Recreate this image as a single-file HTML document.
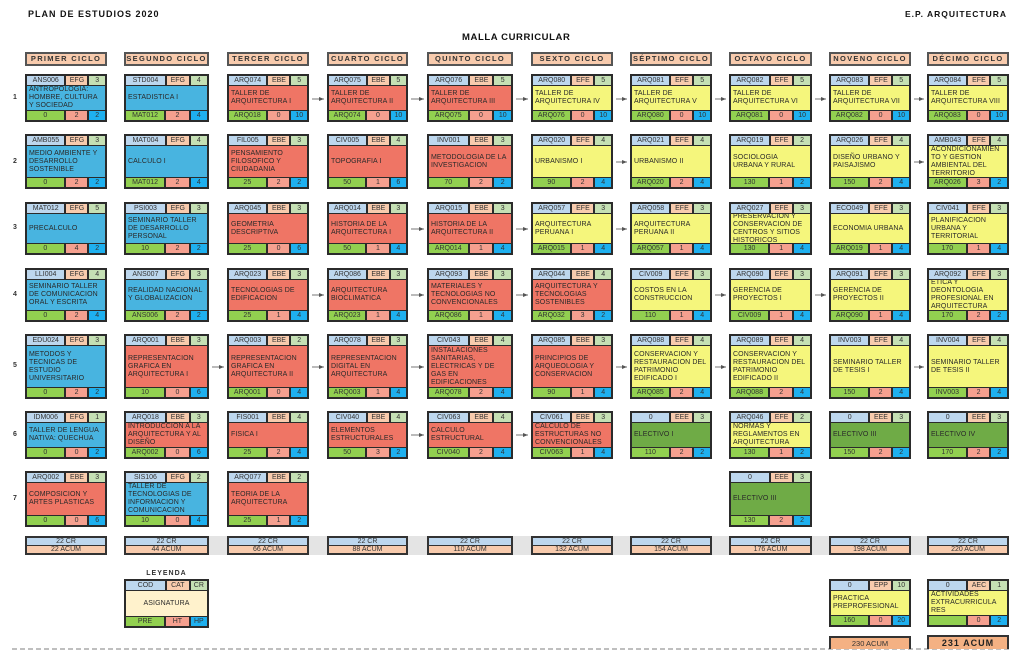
<!DOCTYPE html>
<html><head><meta charset="utf-8"><style>
*{margin:0;padding:0;box-sizing:border-box}
body{width:1024px;height:666px;background:#fff;position:relative;overflow:hidden;font-family:"Liberation Sans",Arial,sans-serif;color:#222}
.tt{position:absolute;font-weight:bold;font-size:9px;letter-spacing:1px;color:#111}
.h{position:absolute;top:52px;height:14px;background:#f8cbad;border:2px solid #555;font-size:7.5px;font-weight:bold;letter-spacing:1.3px;text-align:center;line-height:10px;color:#333}
.c{position:absolute;border:2px solid #2b2b2b;background:#2b2b2b;display:flex;flex-direction:column}
.t,.f{display:flex;height:9px;gap:2px;font-size:7px;line-height:9px;text-align:center;color:#333;flex:none}
.t{margin-bottom:1px}.f{margin-top:1px}
.t i,.f i{font-style:normal;display:block;overflow:hidden;white-space:nowrap}
.t i:nth-child(1){background:#bdd7ee;width:48%}
.t i:nth-child(2){background:#f8cbad;width:27%}
.t i:nth-child(3){background:#c5e0b4;flex:1}
.f i:nth-child(1){background:#92d050;width:47%}
.f i:nth-child(2){background:#f5a08f;width:28%}
.f i:nth-child(3){background:#1eb0ef;flex:1}
.m{flex:1;display:flex;align-items:center;padding:0 2px;font-size:7px;line-height:8px;letter-spacing:0.1px;color:#2a2a2a;overflow:hidden}
.b .m{background:#48b4e0}.r .m{background:#ef7565}.y .m{background:#f5f67c}.g .m{background:#6fab46}
.a1{left:25px;width:82px}.a2{left:124px;width:85px}.a3{left:227px;width:82px}.a4{left:327px;width:81px}.a5{left:427px;width:86px}
.a6{left:531px;width:82px}.a7{left:630px;width:82px}.a8{left:729px;width:83px}.a9{left:829px;width:82px}.a10{left:927px;width:82px}
.r1{top:74px;height:48px}.r2{top:134px;height:55px}.r3{top:202px;height:53px}.r4{top:268px;height:54px}.r5{top:334px;height:65px}.r6{top:411px;height:48px}.r7{top:471px;height:56px}
.n{position:absolute;left:13px;font-size:7px;font-weight:bold;color:#333}
.tot{position:absolute;top:536px;height:19px;border:2px solid #333;background:#333;display:flex;flex-direction:column;gap:1px;font-size:7px;text-align:center;color:#333}
.tot div{flex:1;line-height:7px}
.tot div:first-child{background:#bdd7ee}.tot div:last-child{background:#f8cbad}
</style></head><body>
<div class="tt" style="left:28px;top:9px">PLAN DE ESTUDIOS 2020</div>
<div class="tt" style="left:905px;top:9px;font-size:8.5px">E.P. ARQUITECTURA</div>
<div class="tt" style="left:462px;top:32px;font-size:9.5px;letter-spacing:0.6px">MALLA CURRICULAR</div>

<div class="h a1">PRIMER CICLO</div><div class="h a2">SEGUNDO CICLO</div><div class="h a3">TERCER CICLO</div><div class="h a4">CUARTO CICLO</div><div class="h a5">QUINTO CICLO</div><div class="h a6">SEXTO CICLO</div><div class="h a7">SÉPTIMO CICLO</div><div class="h a8">OCTAVO CICLO</div><div class="h a9">NOVENO CICLO</div><div class="h a10">DÉCIMO CICLO</div>

<div class="n" style="top:94px">1</div><div class="n" style="top:158px">2</div><div class="n" style="top:224px">3</div><div class="n" style="top:291px">4</div><div class="n" style="top:362px">5</div><div class="n" style="top:431px">6</div><div class="n" style="top:495px">7</div>

<svg width="1024" height="666" style="position:absolute;left:0;top:0">
<defs><marker id="ar" markerWidth="5" markerHeight="4" refX="5" refY="2" orient="auto"><path d="M0,0L5,2L0,4z" fill="#555"/></marker></defs>
<g stroke="#777" stroke-width="1" marker-end="url(#ar)">
<line x1="312" y1="99" x2="324" y2="99"/><line x1="411" y1="99" x2="424" y2="99"/><line x1="516" y1="99" x2="528" y2="99"/><line x1="616" y1="99" x2="627" y2="99"/><line x1="715" y1="99" x2="726" y2="99"/><line x1="815" y1="99" x2="826" y2="99"/><line x1="914" y1="99" x2="924" y2="99"/>
<line x1="616" y1="162" x2="627" y2="162"/><line x1="914" y1="162" x2="924" y2="162"/>
<line x1="411" y1="229" x2="424" y2="229"/><line x1="516" y1="229" x2="528" y2="229"/><line x1="616" y1="229" x2="627" y2="229"/>
<line x1="312" y1="295" x2="324" y2="295"/><line x1="411" y1="295" x2="424" y2="295"/><line x1="516" y1="295" x2="528" y2="295"/><line x1="715" y1="295" x2="726" y2="295"/><line x1="815" y1="295" x2="826" y2="295"/>
<line x1="212" y1="367" x2="224" y2="367"/><line x1="312" y1="367" x2="324" y2="367"/><line x1="411" y1="367" x2="424" y2="367"/><line x1="616" y1="367" x2="627" y2="367"/><line x1="715" y1="367" x2="726" y2="367"/><line x1="914" y1="367" x2="924" y2="367"/>
<line x1="411" y1="435" x2="424" y2="435"/><line x1="516" y1="435" x2="528" y2="435"/>
</g>
<rect x="209" y="536" width="718" height="19" fill="#e4e4e4"/>
<line x1="12" y1="649" x2="1010" y2="649" stroke="#aaa" stroke-width="1.5" stroke-dasharray="5,3"/>
</svg>

<!-- Col 1 -->
<div class="c b a1 r1"><div class="t"><i>ANS006</i><i>EFG</i><i>3</i></div><div class="m">ANTROPOLOGIA: HOMBRE, CULTURA Y SOCIEDAD</div><div class="f"><i>0</i><i>2</i><i>2</i></div></div>
<div class="c b a1 r2"><div class="t"><i>AMB055</i><i>EFG</i><i>3</i></div><div class="m">MEDIO AMBIENTE Y DESARROLLO SOSTENIBLE</div><div class="f"><i>0</i><i>2</i><i>2</i></div></div>
<div class="c b a1 r3"><div class="t"><i>MAT012</i><i>EFG</i><i>5</i></div><div class="m">PRECALCULO</div><div class="f"><i>0</i><i>4</i><i>2</i></div></div>
<div class="c b a1 r4"><div class="t"><i>LLI004</i><i>EFG</i><i>4</i></div><div class="m">SEMINARIO TALLER DE COMUNICACION ORAL Y ESCRITA</div><div class="f"><i>0</i><i>2</i><i>4</i></div></div>
<div class="c b a1 r5"><div class="t"><i>EDU024</i><i>EFG</i><i>3</i></div><div class="m">METODOS Y TECNICAS DE ESTUDIO UNIVERSITARIO</div><div class="f"><i>0</i><i>2</i><i>2</i></div></div>
<div class="c b a1 r6"><div class="t"><i>IDM006</i><i>EFG</i><i>1</i></div><div class="m">TALLER DE LENGUA NATIVA: QUECHUA</div><div class="f"><i>0</i><i>0</i><i>2</i></div></div>
<div class="c r a1 r7"><div class="t"><i>ARQ002</i><i>EBE</i><i>3</i></div><div class="m">COMPOSICION Y ARTES PLASTICAS</div><div class="f"><i>0</i><i>0</i><i>6</i></div></div>
<!-- Col 2 -->
<div class="c b a2 r1"><div class="t"><i>STD004</i><i>EFG</i><i>4</i></div><div class="m">ESTADISTICA I</div><div class="f"><i>MAT012</i><i>2</i><i>4</i></div></div>
<div class="c b a2 r2"><div class="t"><i>MAT004</i><i>EFG</i><i>4</i></div><div class="m">CALCULO I</div><div class="f"><i>MAT012</i><i>2</i><i>4</i></div></div>
<div class="c b a2 r3"><div class="t"><i>PSI003</i><i>EFG</i><i>3</i></div><div class="m">SEMINARIO TALLER DE DESARROLLO PERSONAL</div><div class="f"><i>10</i><i>2</i><i>2</i></div></div>
<div class="c b a2 r4"><div class="t"><i>ANS007</i><i>EFG</i><i>3</i></div><div class="m">REALIDAD NACIONAL Y GLOBALIZACION</div><div class="f"><i>ANS006</i><i>2</i><i>2</i></div></div>
<div class="c r a2 r5"><div class="t"><i>ARQ001</i><i>EBE</i><i>3</i></div><div class="m">REPRESENTACION GRAFICA EN ARQUITECTURA I</div><div class="f"><i>10</i><i>0</i><i>6</i></div></div>
<div class="c r a2 r6"><div class="t"><i>ARQ018</i><i>EBE</i><i>3</i></div><div class="m">INTRODUCCION A LA ARQUITECTURA Y AL DISEÑO</div><div class="f"><i>ARQ002</i><i>0</i><i>6</i></div></div>
<div class="c b a2 r7"><div class="t"><i>SIS106</i><i>EFG</i><i>2</i></div><div class="m">TALLER DE TECNOLOGIAS DE INFORMACION Y COMUNICACION</div><div class="f"><i>10</i><i>0</i><i>4</i></div></div>
<!-- Col 3 -->
<div class="c r a3 r1"><div class="t"><i>ARQ074</i><i>EBE</i><i>5</i></div><div class="m">TALLER DE ARQUITECTURA I</div><div class="f"><i>ARQ018</i><i>0</i><i>10</i></div></div>
<div class="c r a3 r2"><div class="t"><i>FIL005</i><i>EBE</i><i>3</i></div><div class="m">PENSAMIENTO FILOSOFICO Y CIUDADANIA</div><div class="f"><i>25</i><i>2</i><i>2</i></div></div>
<div class="c r a3 r3"><div class="t"><i>ARQ045</i><i>EBE</i><i>3</i></div><div class="m">GEOMETRIA DESCRIPTIVA</div><div class="f"><i>25</i><i>0</i><i>6</i></div></div>
<div class="c r a3 r4"><div class="t"><i>ARQ023</i><i>EBE</i><i>3</i></div><div class="m">TECNOLOGIAS DE EDIFICACION</div><div class="f"><i>25</i><i>1</i><i>4</i></div></div>
<div class="c r a3 r5"><div class="t"><i>ARQ003</i><i>EBE</i><i>2</i></div><div class="m">REPRESENTACION GRAFICA EN ARQUITECTURA II</div><div class="f"><i>ARQ001</i><i>0</i><i>4</i></div></div>
<div class="c r a3 r6"><div class="t"><i>FIS001</i><i>EBE</i><i>4</i></div><div class="m">FISICA I</div><div class="f"><i>25</i><i>2</i><i>4</i></div></div>
<div class="c r a3 r7"><div class="t"><i>ARQ077</i><i>EBE</i><i>2</i></div><div class="m">TEORIA DE LA ARQUITECTURA</div><div class="f"><i>25</i><i>1</i><i>2</i></div></div>
<!-- Col 4 -->
<div class="c r a4 r1"><div class="t"><i>ARQ075</i><i>EBE</i><i>5</i></div><div class="m">TALLER DE ARQUITECTURA II</div><div class="f"><i>ARQ074</i><i>0</i><i>10</i></div></div>
<div class="c r a4 r2"><div class="t"><i>CIV005</i><i>EBE</i><i>4</i></div><div class="m">TOPOGRAFIA I</div><div class="f"><i>50</i><i>1</i><i>6</i></div></div>
<div class="c r a4 r3"><div class="t"><i>ARQ014</i><i>EBE</i><i>3</i></div><div class="m">HISTORIA DE LA ARQUITECTURA I</div><div class="f"><i>50</i><i>1</i><i>4</i></div></div>
<div class="c r a4 r4"><div class="t"><i>ARQ086</i><i>EBE</i><i>3</i></div><div class="m">ARQUITECTURA BIOCLIMATICA</div><div class="f"><i>ARQ023</i><i>1</i><i>4</i></div></div>
<div class="c r a4 r5"><div class="t"><i>ARQ078</i><i>EBE</i><i>3</i></div><div class="m">REPRESENTACION DIGITAL EN ARQUITECTURA</div><div class="f"><i>ARQ003</i><i>1</i><i>4</i></div></div>
<div class="c r a4 r6"><div class="t"><i>CIV040</i><i>EBE</i><i>4</i></div><div class="m">ELEMENTOS ESTRUCTURALES</div><div class="f"><i>50</i><i>3</i><i>2</i></div></div>
<!-- Col 5 -->
<div class="c r a5 r1"><div class="t"><i>ARQ076</i><i>EBE</i><i>5</i></div><div class="m">TALLER DE ARQUITECTURA III</div><div class="f"><i>ARQ075</i><i>0</i><i>10</i></div></div>
<div class="c r a5 r2"><div class="t"><i>INV001</i><i>EBE</i><i>3</i></div><div class="m">METODOLOGIA DE LA INVESTIGACION</div><div class="f"><i>70</i><i>2</i><i>2</i></div></div>
<div class="c r a5 r3"><div class="t"><i>ARQ015</i><i>EBE</i><i>3</i></div><div class="m">HISTORIA DE LA ARQUITECTURA II</div><div class="f"><i>ARQ014</i><i>1</i><i>4</i></div></div>
<div class="c r a5 r4"><div class="t"><i>ARQ093</i><i>EBE</i><i>3</i></div><div class="m">MATERIALES Y TECNOLOGIAS NO CONVENCIONALES</div><div class="f"><i>ARQ086</i><i>1</i><i>4</i></div></div>
<div class="c r a5 r5"><div class="t"><i>CIV043</i><i>EBE</i><i>4</i></div><div class="m">INSTALACIONES SANITARIAS, ELECTRICAS Y DE GAS EN EDIFICACIONES</div><div class="f"><i>ARQ078</i><i>2</i><i>4</i></div></div>
<div class="c r a5 r6"><div class="t"><i>CIV063</i><i>EBE</i><i>4</i></div><div class="m">CALCULO ESTRUCTURAL</div><div class="f"><i>CIV040</i><i>2</i><i>4</i></div></div>
<!-- Col 6 -->
<div class="c y a6 r1"><div class="t"><i>ARQ080</i><i>EFE</i><i>5</i></div><div class="m">TALLER DE ARQUITECTURA IV</div><div class="f"><i>ARQ076</i><i>0</i><i>10</i></div></div>
<div class="c y a6 r2"><div class="t"><i>ARQ020</i><i>EFE</i><i>4</i></div><div class="m">URBANISMO I</div><div class="f"><i>90</i><i>2</i><i>4</i></div></div>
<div class="c y a6 r3"><div class="t"><i>ARQ057</i><i>EFE</i><i>3</i></div><div class="m">ARQUITECTURA PERUANA I</div><div class="f"><i>ARQ015</i><i>1</i><i>4</i></div></div>
<div class="c r a6 r4"><div class="t"><i>ARQ044</i><i>EBE</i><i>4</i></div><div class="m">ARQUITECTURA Y TECNOLOGIAS SOSTENIBLES</div><div class="f"><i>ARQ032</i><i>3</i><i>2</i></div></div>
<div class="c r a6 r5"><div class="t"><i>ARQ085</i><i>EBE</i><i>3</i></div><div class="m">PRINCIPIOS DE ARQUEOLOGIA Y CONSERVACION</div><div class="f"><i>90</i><i>1</i><i>4</i></div></div>
<div class="c r a6 r6"><div class="t"><i>CIV061</i><i>EBE</i><i>3</i></div><div class="m">CALCULO DE ESTRUCTURAS NO CONVENCIONALES</div><div class="f"><i>CIV063</i><i>1</i><i>4</i></div></div>
<!-- Col 7 -->
<div class="c y a7 r1"><div class="t"><i>ARQ081</i><i>EFE</i><i>5</i></div><div class="m">TALLER DE ARQUITECTURA V</div><div class="f"><i>ARQ080</i><i>0</i><i>10</i></div></div>
<div class="c y a7 r2"><div class="t"><i>ARQ021</i><i>EFE</i><i>4</i></div><div class="m">URBANISMO II</div><div class="f"><i>ARQ020</i><i>2</i><i>4</i></div></div>
<div class="c y a7 r3"><div class="t"><i>ARQ058</i><i>EFE</i><i>3</i></div><div class="m">ARQUITECTURA PERUANA II</div><div class="f"><i>ARQ057</i><i>1</i><i>4</i></div></div>
<div class="c y a7 r4"><div class="t"><i>CIV009</i><i>EFE</i><i>3</i></div><div class="m">COSTOS EN LA CONSTRUCCION</div><div class="f"><i>110</i><i>1</i><i>4</i></div></div>
<div class="c y a7 r5"><div class="t"><i>ARQ088</i><i>EFE</i><i>4</i></div><div class="m">CONSERVACION Y RESTAURACION DEL PATRIMONIO EDIFICADO I</div><div class="f"><i>ARQ085</i><i>2</i><i>4</i></div></div>
<div class="c g a7 r6"><div class="t"><i>0</i><i>EEE</i><i>3</i></div><div class="m">ELECTIVO I</div><div class="f"><i>110</i><i>2</i><i>2</i></div></div>
<!-- Col 8 -->
<div class="c y a8 r1"><div class="t"><i>ARQ082</i><i>EFE</i><i>5</i></div><div class="m">TALLER DE ARQUITECTURA VI</div><div class="f"><i>ARQ081</i><i>0</i><i>10</i></div></div>
<div class="c y a8 r2"><div class="t"><i>ARQ019</i><i>EFE</i><i>2</i></div><div class="m">SOCIOLOGIA URBANA Y RURAL</div><div class="f"><i>130</i><i>1</i><i>2</i></div></div>
<div class="c y a8 r3"><div class="t"><i>ARQ027</i><i>EFE</i><i>3</i></div><div class="m">PRESERVACION Y CONSERVACION DE CENTROS Y SITIOS HISTORICOS</div><div class="f"><i>130</i><i>1</i><i>4</i></div></div>
<div class="c y a8 r4"><div class="t"><i>ARQ090</i><i>EFE</i><i>3</i></div><div class="m">GERENCIA DE PROYECTOS I</div><div class="f"><i>CIV009</i><i>1</i><i>4</i></div></div>
<div class="c y a8 r5"><div class="t"><i>ARQ089</i><i>EFE</i><i>4</i></div><div class="m">CONSERVACION Y RESTAURACION DEL PATRIMONIO EDIFICADO II</div><div class="f"><i>ARQ088</i><i>2</i><i>4</i></div></div>
<div class="c y a8 r6"><div class="t"><i>ARQ046</i><i>EFE</i><i>2</i></div><div class="m">NORMAS Y REGLAMENTOS EN ARQUITECTURA</div><div class="f"><i>130</i><i>1</i><i>2</i></div></div>
<div class="c g a8 r7"><div class="t"><i>0</i><i>EEE</i><i>3</i></div><div class="m">ELECTIVO III</div><div class="f"><i>130</i><i>2</i><i>2</i></div></div>
<!-- Col 9 -->
<div class="c y a9 r1"><div class="t"><i>ARQ083</i><i>EFE</i><i>5</i></div><div class="m">TALLER DE ARQUITECTURA VII</div><div class="f"><i>ARQ082</i><i>0</i><i>10</i></div></div>
<div class="c y a9 r2"><div class="t"><i>ARQ026</i><i>EFE</i><i>4</i></div><div class="m">DISEÑO URBANO Y PAISAJISMO</div><div class="f"><i>150</i><i>2</i><i>4</i></div></div>
<div class="c y a9 r3"><div class="t"><i>ECO049</i><i>EFE</i><i>3</i></div><div class="m">ECONOMIA URBANA</div><div class="f"><i>ARQ019</i><i>1</i><i>4</i></div></div>
<div class="c y a9 r4"><div class="t"><i>ARQ091</i><i>EFE</i><i>3</i></div><div class="m">GERENCIA DE PROYECTOS II</div><div class="f"><i>ARQ090</i><i>1</i><i>4</i></div></div>
<div class="c y a9 r5"><div class="t"><i>INV003</i><i>EFE</i><i>4</i></div><div class="m">SEMINARIO TALLER DE TESIS I</div><div class="f"><i>150</i><i>2</i><i>4</i></div></div>
<div class="c g a9 r6"><div class="t"><i>0</i><i>EEE</i><i>3</i></div><div class="m">ELECTIVO III</div><div class="f"><i>150</i><i>2</i><i>2</i></div></div>
<!-- Col 10 -->
<div class="c y a10 r1"><div class="t"><i>ARQ084</i><i>EFE</i><i>5</i></div><div class="m">TALLER DE ARQUITECTURA VIII</div><div class="f"><i>ARQ083</i><i>0</i><i>10</i></div></div>
<div class="c y a10 r2"><div class="t"><i>AMB043</i><i>EFE</i><i>4</i></div><div class="m">ACONDICIONAMIEN TO Y GESTION AMBIENTAL DEL TERRITORIO</div><div class="f"><i>ARQ026</i><i>3</i><i>2</i></div></div>
<div class="c y a10 r3"><div class="t"><i>CIV041</i><i>EFE</i><i>3</i></div><div class="m">PLANIFICACION URBANA Y TERRITORIAL</div><div class="f"><i>170</i><i>1</i><i>4</i></div></div>
<div class="c y a10 r4"><div class="t"><i>ARQ092</i><i>EFE</i><i>3</i></div><div class="m">ETICA Y DEONTOLOGIA PROFESIONAL EN ARQUITECTURA</div><div class="f"><i>170</i><i>2</i><i>2</i></div></div>
<div class="c y a10 r5"><div class="t"><i>INV004</i><i>EFE</i><i>4</i></div><div class="m">SEMINARIO TALLER DE TESIS II</div><div class="f"><i>INV003</i><i>2</i><i>4</i></div></div>
<div class="c g a10 r6"><div class="t"><i>0</i><i>EEE</i><i>3</i></div><div class="m">ELECTIVO IV</div><div class="f"><i>170</i><i>2</i><i>2</i></div></div>

<!-- Totals -->
<div class="tot a1"><div>22 CR</div><div>22 ACUM</div></div>
<div class="tot a2"><div>22 CR</div><div>44 ACUM</div></div>
<div class="tot a3"><div>22 CR</div><div>66 ACUM</div></div>
<div class="tot a4"><div>22 CR</div><div>88 ACUM</div></div>
<div class="tot a5"><div>22 CR</div><div>110 ACUM</div></div>
<div class="tot a6"><div>22 CR</div><div>132 ACUM</div></div>
<div class="tot a7"><div>22 CR</div><div>154 ACUM</div></div>
<div class="tot a8"><div>22 CR</div><div>176 ACUM</div></div>
<div class="tot a9"><div>22 CR</div><div>198 ACUM</div></div>
<div class="tot a10"><div>22 CR</div><div>220 ACUM</div></div>

<!-- Legend -->
<div style="position:absolute;left:124px;width:85px;top:570px;text-align:center;font-size:7px;font-weight:bold;letter-spacing:1px;color:#333">LEYENDA</div>
<div class="c a2" style="top:579px;height:49px"><div class="t"><i>COD</i><i>CAT</i><i>CR</i></div><div class="m" style="background:#fff2cc;justify-content:center">ASIGNATURA</div><div class="f"><i>PRE</i><i>HT</i><i>HP</i></div></div>

<div class="c y a9" style="top:579px;height:48px"><div class="t"><i>0</i><i>EPP</i><i>10</i></div><div class="m">PRACTICA PREPROFESIONAL</div><div class="f"><i>160</i><i>0</i><i>20</i></div></div>
<div class="c y a10" style="top:579px;height:48px"><div class="t"><i>0</i><i>AEC</i><i>1</i></div><div class="m">ACTIVIDADES EXTRACURRICULA RES</div><div class="f"><i></i><i>0</i><i>2</i></div></div>
<div class="a9" style="position:absolute;top:636px;height:13px;background:#f4b183;border:2px solid #333;border-bottom:none;font-size:7.5px;text-align:center;line-height:11px;color:#333">230 ACUM</div>
<div class="a10" style="position:absolute;top:635px;height:14px;background:#f4b183;border:2px solid #333;border-bottom:none;font-size:9px;font-weight:bold;letter-spacing:1px;text-align:center;line-height:12px;color:#222">231 ACUM</div>
</body></html>
